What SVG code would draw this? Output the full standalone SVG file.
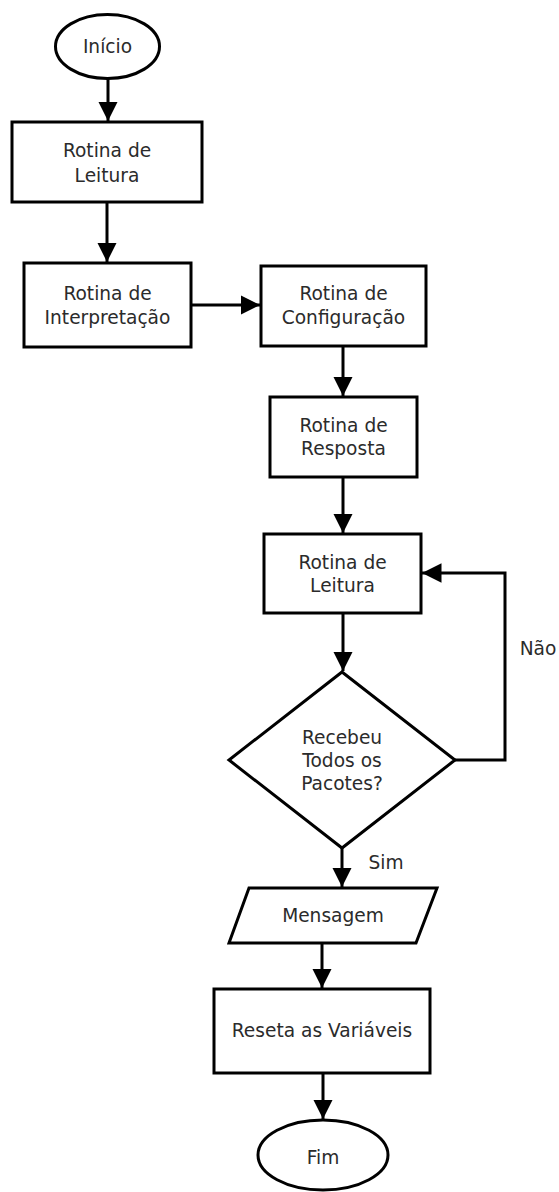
<svg xmlns="http://www.w3.org/2000/svg" width="559" height="1192" viewBox="0 0 559 1192">
  <defs>
    <marker id="arrow" viewBox="0 0 10 10" refX="10" refY="5" markerWidth="6.5" markerHeight="6.5" markerUnits="strokeWidth" orient="auto">
      <path d="M0,0 L10,5 L0,10 Z" fill="#000"/>
    </marker>
    <style>
      .shape { fill: #fff; stroke: #000; stroke-width: 3; }
      .edge { fill: none; stroke: #000; stroke-width: 3; marker-end: url(#arrow); }
      .label { font-family: "DejaVu Sans", sans-serif; font-size: 18.6px; fill: #2b2b2b; text-anchor: middle; dominant-baseline: central; }
    </style>
  </defs>
  <rect width="559" height="1192" fill="#fff"/>

  <g id="connectors">
    <path class="edge" d="M108,79 L108,121"/>
    <path class="edge" d="M107,202 L107,262"/>
    <path class="edge" d="M191,305 L260,305"/>
    <path class="edge" d="M343,346 L343,396"/>
    <path class="edge" d="M343,477 L343,533"/>
    <path class="edge" d="M343,613 L343,671"/>
    <path class="edge" d="M455,760 L505,760 L505,573 L422,573"/>
    <path class="edge" d="M342,848 L342,887"/>
    <path class="edge" d="M322,943 L322,988"/>
    <path class="edge" d="M323,1073 L323,1119"/>
    <text class="label" x="538" y="648">Não</text>
    <text class="label" x="386" y="862">Sim</text>
  </g>

  <g id="inicio">
    <ellipse class="shape" cx="107.5" cy="46.5" rx="52" ry="32"/>
    <text class="label" x="107.5" y="46.5">Início</text>
  </g>

  <g id="leitura1">
    <rect class="shape" x="12" y="122" width="190" height="80"/>
    <text class="label" x="107" y="150">Rotina de</text>
    <text class="label" x="107" y="175">Leitura</text>
  </g>

  <g id="interpretacao">
    <rect class="shape" x="24" y="263" width="167" height="84"/>
    <text class="label" x="107.5" y="293">Rotina de</text>
    <text class="label" x="107.5" y="317">Interpretação</text>
  </g>

  <g id="configuracao">
    <rect class="shape" x="261" y="266" width="165" height="80"/>
    <text class="label" x="343.5" y="293">Rotina de</text>
    <text class="label" x="343.5" y="317">Configuração</text>
  </g>

  <g id="resposta">
    <rect class="shape" x="270" y="397" width="147" height="80"/>
    <text class="label" x="343.5" y="425">Rotina de</text>
    <text class="label" x="343.5" y="448">Resposta</text>
  </g>

  <g id="leitura2">
    <rect class="shape" x="264" y="534" width="157" height="79"/>
    <text class="label" x="342.5" y="562">Rotina de</text>
    <text class="label" x="342.5" y="585">Leitura</text>
  </g>

  <g id="decisao">
    <polygon class="shape" points="342,672 455,760 342,848 229,760"/>
    <text class="label" x="342" y="737">Recebeu</text>
    <text class="label" x="342" y="760">Todos os</text>
    <text class="label" x="342" y="783">Pacotes?</text>
  </g>

  <g id="mensagem">
    <polygon class="shape" points="249,888 437,888 416,943 229,943"/>
    <text class="label" x="333" y="915">Mensagem</text>
  </g>

  <g id="reseta">
    <rect class="shape" x="214" y="989" width="216" height="84"/>
    <text class="label" x="322" y="1030">Reseta as Variáveis</text>
  </g>

  <g id="fim">
    <ellipse class="shape" cx="323" cy="1155" rx="65" ry="35"/>
    <text class="label" x="323" y="1157">Fim</text>
  </g>
</svg>
